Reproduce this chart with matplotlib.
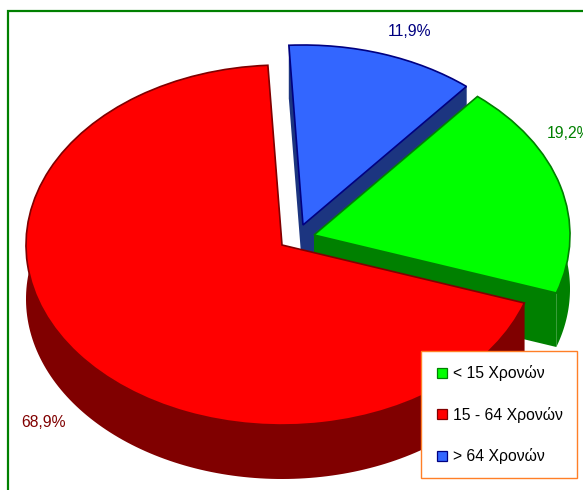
#!/usr/bin/env python3
# -*- coding: utf-8 -*-
import numpy as np
import matplotlib
matplotlib.use('Agg')
import matplotlib.pyplot as plt
from matplotlib.lines import Line2D
from matplotlib.patches import Rectangle

plt.rcParams['font.family'] = ['Liberation Sans', 'DejaVu Sans']

# ==============================================================================
#       Data
# ==============================================================================
labels = ['< 15 Χρονών', '15 - 64 Χρονών', '> 64 Χρονών']
shares = [19.2, 68.9, 11.9]
share_labels = ['19,2%', '68,9%', '11,9%']

top_colors = ['#00FF00', '#FF0000', '#3366FF']
side_colors = ['#008000', '#800000', '#1C3580']
edge_colors = ['#008000', '#800000', '#000080']

# slice centres in pixels, picture is 583x490
centres = [(314, 235), (282, 245), (303, 225)]
text_pos = [(547, 133), (21, 422), (388, 32)]

rx, ry = 256.0, 180.0
depth = 54.0
start_angle = -18.8
k = rx / ry   # y is stretched so the circle of pie() becomes the flat ellipse


def yd(py):
    return (490 - py) * k


# angle ranges, counter clockwise: green first, then blue, red takes the rest
spans = [s * 3.6 for s in shares]
ranges = [
    (start_angle, start_angle + spans[0]),
    (start_angle + spans[0] + spans[2], start_angle + 360),
    (start_angle + spans[0], start_angle + spans[0] + spans[2]),
]

fig = plt.figure(figsize=(5.83, 4.90), dpi=100)
ax = fig.add_axes([0, 0, 1, 1])

# back to front: blue, green, red
for layer, i in enumerate([2, 0, 1]):
    cx, cy = centres[i][0], yd(centres[i][1])
    a0, a1 = ranges[i]
    d = depth * k
    t = np.radians(np.linspace(a0, a1, 200))
    x = cx + rx * np.cos(t)
    y = cy + rx * np.sin(t)
    # rim and both radial faces
    ax.fill(np.r_[x, x[::-1]], np.r_[y, y[::-1] - d], color=side_colors[i], lw=0, zorder=layer)
    for j in [0, -1]:
        ax.fill([cx, x[j], x[j], cx], [cy, y[j], y[j] - d, cy - d],
                color=side_colors[i], lw=0, zorder=layer)
    wedges, _ = ax.pie([(a1 - a0) / 360.0], startangle=a0, normalize=False, radius=rx,
                       center=(cx, cy), colors=[top_colors[i]],
                       wedgeprops={'edgecolor': edge_colors[i], 'linewidth': 1.2})
    wedges[0].set_zorder(layer + 0.5)

ax.set_aspect('auto')
ax.set_xlim(0, 583)
ax.set_ylim(0, 490 * k)
ax.axis('off')

# green outer frame, runs off the picture on the right and at the bottom
ax.add_patch(Rectangle((7.5, yd(520)), 620, (520 - 10.5) * k, fill=False,
                       edgecolor='#008000', linewidth=1.6, zorder=5))

for i in range(3):
    ax.text(text_pos[i][0], yd(text_pos[i][1]), share_labels[i], color=edge_colors[i],
            fontsize=11.3, va='center', ha='left', zorder=6)

handles = [Line2D([], [], linestyle='', marker='s', markersize=6.6, markerfacecolor=top_colors[i],
                  markeredgecolor=edge_colors[i], markeredgewidth=0.9) for i in range(3)]
leg = ax.legend(handles, labels, loc='upper left', bbox_to_anchor=(421 / 583, 1 - 351 / 490),
                borderaxespad=0, fancybox=False, framealpha=1, edgecolor='#FF7F27',
                fontsize=11.3, handlelength=0.9, handletextpad=0.26,
                labelspacing=1.63, borderpad=0.9, labelcolor='black', numpoints=1)
leg.get_frame().set_linewidth(1.0)
leg.set_zorder(7)

fig.savefig('out.png', dpi=100)
